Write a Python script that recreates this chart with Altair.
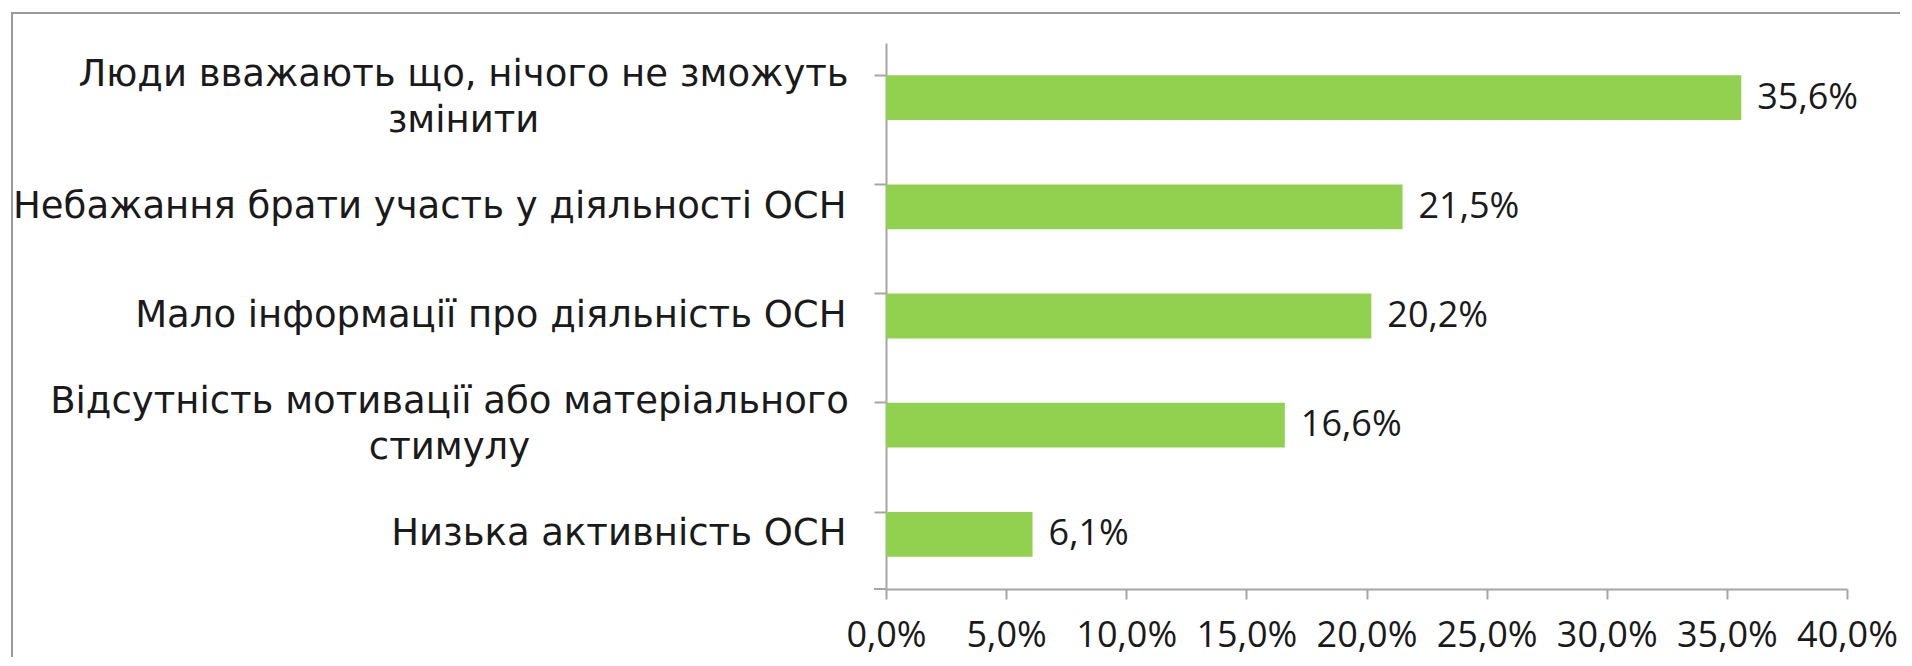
import altair as alt
import pandas as pd

categories = [
    "Люди вважають що, нічого не зможуть\nзмінити",
    "Небажання брати участь у діяльності ОСН",
    "Мало інформації про діяльність ОСН",
    "Відсутність мотивації або матеріального\nстимулу",
    "Низька активність ОСН",
]
values = [35.6, 21.5, 20.2, 16.6, 6.1]
x_ticks = [0, 5, 10, 15, 20, 25, 30, 35, 40]

df = pd.DataFrame({"cat": categories, "v": values})

LFONT = "DejaVu Sans"
LFS = 37
NFONT = "Open Sans"
NFS = 36
W, H = 961, 546
GRAY = "#a6a6a6"
TXT = "#1a1a1a"

two_line = "indexof(datum.label, '\\n') >= 0"

y_enc = alt.Y(
    "cat:N",
    sort=categories,
    title=None,
    scale=alt.Scale(paddingInner=0.59, paddingOuter=0.295),
    axis=alt.Axis(
        labelExpr="split(datum.label, '\\n')",
        labelFont=LFONT,
        labelFontSize=LFS,
        labelColor=TXT,
        labelLineHeight=46,
        labelAlign={"condition": {"test": two_line, "value": "center"}, "value": "right"},
        labelPadding={
            "condition": [
                {"test": "indexof(datum.label, 'змінити') >= 0", "value": 411},
                {"test": "indexof(datum.label, 'стимулу') >= 0", "value": 425},
            ],
            "value": 28,
        },
        labelLimit=1000,
        labelOffset={"condition": {"test": two_line, "value": -23}, "value": 0},
        tickSize=12,
        tickColor=GRAY,
        tickWidth=2,
        domainColor=GRAY,
        domainWidth=2,
        bandPosition=0,
        grid=False,
    ),
)

x_enc = alt.X(
    "v:Q",
    title=None,
    scale=alt.Scale(domain=[0, 40], nice=False),
    axis=alt.Axis(
        values=x_ticks,
        labelExpr="replace(format(datum.value, '.1f'), '.', ',') + '%'",
        labelFont=NFONT,
        labelFontSize=NFS,
        labelColor=TXT,
        labelPadding=19,
        labelFlush=False,
        labelOverlap=False,
        tickSize=10,
        tickColor=GRAY,
        tickWidth=2,
        domainColor=GRAY,
        domainWidth=2,
        grid=False,
    ),
)

base = alt.Chart(df)

bars = base.mark_bar(color="#92D050").encode(x=x_enc, y=y_enc)

text = base.transform_calculate(
    lbl="replace(format(datum.v, '.1f'), '.', ',') + '%'"
).mark_text(
    align="left", baseline="middle", dx=16, font=NFONT, fontSize=NFS, color=TXT
).encode(x="v:Q", y=alt.Y("cat:N", sort=categories), text="lbl:N")

bottom_tick = base.mark_rule(color=GRAY, strokeWidth=2).encode(
    x=alt.value(-12), x2=alt.value(0), y=alt.value(H)
)

border = base.mark_rect(fillOpacity=0, stroke="#9a9a9a", strokeWidth=2).encode(
    x=alt.value(-874), x2=alt.value(W + 200), y=alt.value(-30), y2=alt.value(H + 200)
)

chart = (
    alt.layer(border, bars, text, bottom_tick)
    .properties(
        width=W,
        height=H,
        autosize=alt.AutoSizeParams(type="none"),
        padding={"left": 878, "top": 35, "right": 53, "bottom": 68},
        background="white",
    )
    .configure_view(strokeWidth=0)
)

chart.save("out.html", embed_options={"renderer": "svg", "actions": False})
